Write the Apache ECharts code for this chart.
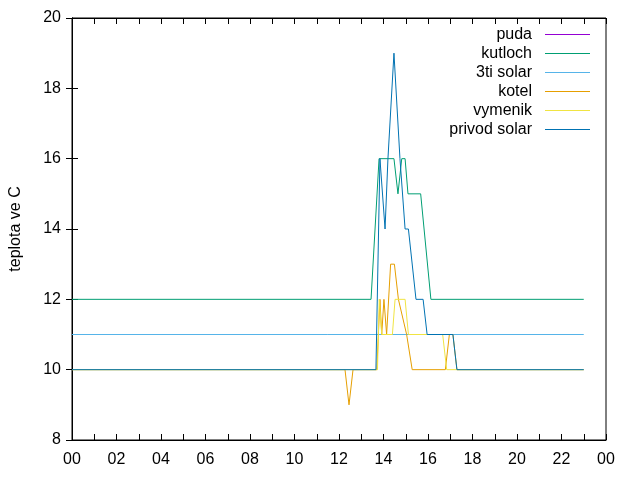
<!DOCTYPE html>
<html>
<head>
<meta charset="utf-8">
<script src="https://cdn.jsdelivr.net/npm/echarts@6/dist/echarts.min.js"></script>
<style>
html,body{margin:0;padding:0;background:#fff;}
#chart{width:640px;height:480px;}
</style>
</head>
<body>
<div id="chart"></div>
<script>
// hodiny (desetinne) a teploty ctene z grafu
var names = ['puda', 'kutloch', '3ti solar', 'kotel', 'vymenik', 'privod solar'];
var colors = ['#9400d3', '#009e73', '#56b4e9', '#e69f00', '#f0e442', '#0072b2'];

// puda neni v grafu videt
var pudaHours = [];
var pudaTemp = [];

var kutlochHours = [0, 13.44, 13.80, 14.47, 14.65, 14.82, 14.97, 15.10, 15.67, 16.13, 23];
var kutlochTemp = [12, 12, 16, 16, 15, 16, 16, 15, 15, 12, 12];

var solar3Hours = [0, 23];
var solar3Temp = [11, 11];

var kotelHours = [0, 12.27, 12.45, 12.63, 13.70, 13.84, 13.92, 14.02, 14.14, 14.32, 14.49, 14.67, 15.04, 15.29, 16.78, 16.96, 17.12, 17.30, 23];
var kotelTemp = [10, 10, 9, 10, 10, 12, 11, 12, 11, 13, 13, 12, 11, 10, 10, 11, 11, 10, 10];

var vymenikHours = [0, 13.73, 13.81, 13.92, 14.40, 14.52, 14.97, 15.12, 16.66, 16.84, 23];
var vymenikTemp = [10, 10, 12, 11, 11, 12, 12, 11, 11, 10, 10];

var privodHours = [0, 13.66, 13.84, 13.92, 14.07, 14.20, 14.47, 14.74, 14.97, 15.12, 15.46, 15.78, 15.96, 17.12, 17.30, 23];
var privodTemp = [10, 10, 16, 16, 14, 16, 19, 16, 14, 14, 12, 12, 11, 11, 10, 10];

var hoursList = [pudaHours, kutlochHours, solar3Hours, kotelHours, vymenikHours, privodHours];
var tempList = [pudaTemp, kutlochTemp, solar3Temp, kotelTemp, vymenikTemp, privodTemp];

function pairs(h, t){
	var ret = [];
	for (var i = 0; i < h.length; i++) {
		ret.push([h[i], t[i]]);
	}
	return ret;
}

var font = 'Liberation Sans';
var fs = 16;
var series = [];
var legends = [];
for (var i = 0; i < names.length; i++) {
	series.push({
		name: names[i],
		type: 'line',
		data: pairs(hoursList[i], tempList[i]),
		showSymbol: false,
		symbol: 'none',
		lineStyle: {width: 1, color: colors[i]},
		itemStyle: {color: colors[i]},
		animation: false
	});
	legends.push({
		data: [names[i]],
		right: 50,
		top: 26.5 + i * 19,
		align: 'right',
		itemWidth: 45,
		itemHeight: 1,
		icon: 'rect',
		padding: 0,
		textStyle: {fontFamily: font, fontSize: fs, color: '#000', padding: [0, 8, 0, 0]},
		selectedMode: false
	});
}

var myChart = echarts.init(document.getElementById('chart'));
var option = {
	animation: false,
	grid: {left: 72, right: 34, top: 18, bottom: 40, show: true, borderColor: '#000', borderWidth: 1},
	legend: legends,
	xAxis: [
		{
			type: 'value', min: 0, max: 24, interval: 2,
			axisLine: {lineStyle: {color: '#000'}},
			axisTick: {inside: true, length: 6, lineStyle: {color: '#000'}},
			minorTick: {show: true, splitNumber: 2, length: 6, lineStyle: {color: '#000'}},
			splitLine: {show: false},
			axisLabel: {
				fontFamily: font, fontSize: fs, color: '#000', margin: 12,
				formatter: function (v) { var h = v % 24; return (h < 10 ? '0' : '') + h; }
			}
		},
		{
			type: 'value', min: 0, max: 24, interval: 2, position: 'top',
			axisLine: {lineStyle: {color: '#000'}},
			axisTick: {inside: true, length: 6, lineStyle: {color: '#000'}},
			minorTick: {show: true, splitNumber: 2, length: 6, lineStyle: {color: '#000'}},
			splitLine: {show: false},
			axisLabel: {show: false}
		}
	],
	yAxis: [
		{
			type: 'value', min: 8, max: 20, interval: 2,
			name: 'teplota ve C', nameLocation: 'middle', nameGap: 48,
			nameTextStyle: {fontFamily: font, fontSize: fs, color: '#000'},
			axisLine: {show: true, lineStyle: {color: '#000'}},
			axisTick: {show: true, inside: true, length: 6, lineStyle: {color: '#000'}},
			splitLine: {show: false},
			axisLabel: {fontFamily: font, fontSize: fs, color: '#000', margin: 11}
		},
		{
			type: 'value', min: 8, max: 20, interval: 2, position: 'right',
			axisLine: {show: true, lineStyle: {color: '#000'}},
			axisTick: {show: true, inside: true, length: 6, lineStyle: {color: '#000'}},
			splitLine: {show: false},
			axisLabel: {show: false}
		}
	],
	series: series
};
myChart.setOption(option);
</script>
</body>
</html>
